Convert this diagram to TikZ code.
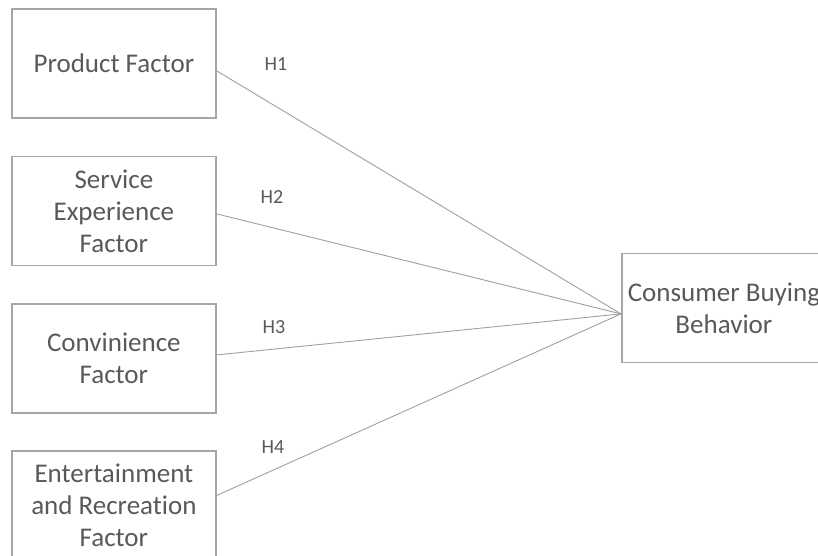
\documentclass[tikz,border=0pt]{standalone}
\usepackage{fontspec}
\setmainfont{Carlito}[Ligatures=NoCommon]
\usetikzlibrary{calc}
\definecolor{txtgray}{HTML}{595959}
\definecolor{boxgray}{HTML}{A6A6A6}
\definecolor{linegray}{HTML}{A0A0A0}
\tikzset{
  factorbox/.style={draw=boxgray, line width=1.8pt, minimum width=204pt, minimum height=109pt,
    inner sep=0pt, align=center, text=txtgray, font=\fontsize{27}{32}\selectfont, anchor=north west},
  hyplabel/.style={text=txtgray, font=\fontsize{20}{24}\selectfont, inner sep=0pt},
  link/.style={draw=linegray, line width=0.9pt}
}
\begin{document}
\begin{tikzpicture}[x=1pt,y=-1pt]
\useasboundingbox (0,0) rectangle (818,555);
\clip (0,0) rectangle (818,555);
\node[factorbox] (b1) at (11,8) {Product Factor};
\node[factorbox] (b2) at (11,155.5) {Service\\Experience\\Factor};
\node[factorbox] (b3) at (11,303) {Convinience\\Factor};
\node[factorbox] (b4) at (11,450) {Entertainment\\and Recreation\\Factor};
\node[factorbox] (b5) at (621,252.5) {Consumer Buying\\Behavior};
\coordinate (hub) at ($(b5.west)+(0,6)$);
\draw[link] ([yshift=-7.5pt]b1.east) -- (hub);
\draw[link] ([yshift=-3pt]b2.east) -- (hub);
\draw[link] ([yshift=3.5pt]b3.east) -- (hub);
\draw[link] ([yshift=10pt]b4.east) -- (hub);
\node[hyplabel] (h1) at (276,64) {H1};
\node[hyplabel] (h2) at (272,197) {H2};
\node[hyplabel] (h3) at (274,327) {H3};
\node[hyplabel] (h4) at (273,447) {H4};
\end{tikzpicture}
\end{document}
